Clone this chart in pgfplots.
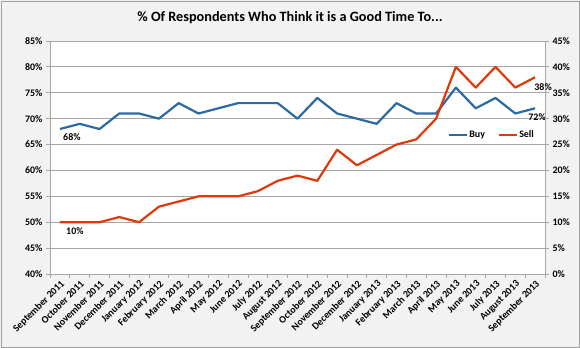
\documentclass[border=0pt]{standalone}
\usepackage{fontspec}
\setmainfont{Carlito}
\usepackage{pgfplots}
\pgfplotsset{compat=1.18}
\definecolor{buyc}{HTML}{2D69A3}
\definecolor{sellc}{HTML}{DE3A0B}
\definecolor{bgc}{HTML}{F2F2F2}
\definecolor{gridc}{HTML}{A6A6A6}
\definecolor{framec}{HTML}{A0A0A0}
\newcommand{\tf}{\bfseries\fontsize{10}{12}\selectfont}
\begin{document}
\begin{tikzpicture}
\fill[bgc] (-50bp,-74bp) rectangle (530bp,274bp);
\draw[framec, line width=0.9bp] (-49bp,-73bp) rectangle (529bp,273bp);
\useasboundingbox (-50bp,-74bp) rectangle (530bp,274bp);
\begin{axis}[
  width=495bp, height=233bp, scale only axis,
  xmin=-0.5, xmax=24.5, ymin=40, ymax=85,
  axis background/.style={fill=white},
  axis y line*=left, axis x line*=bottom,
  axis line style={gridc, line width=0.8bp},
  ytick={40,45,...,85},
  yticklabels={40\%,45\%,50\%,55\%,60\%,65\%,70\%,75\%,80\%,85\%},
  ymajorgrids, grid style={gridc, line width=0.8bp},
  xtick={0,...,24},
  xticklabels={September 2011,October 2011,November 2011,December 2011,January 2012,February 2012,March 2012,April 2012,May 2012,June 2012,July 2012,August 2012,September 2012,October 2012,November 2012,December 2012,January 2013,February 2013,March 2013,April 2013,May 2013,June 2013,July 2013,August 2013,September 2013},
  major x tick style={draw=none},
  minor xtick={-0.5,0.5,...,24.5},
  minor x tick style={gridc, line width=0.8bp},
  tick style={gridc, line width=0.8bp},
  tick align=outside,
  major tick length=4bp, minor tick length=4bp,
  x tick label style={rotate=45, anchor=north east, font=\tf, inner sep=1bp},
  y tick label style={font=\tf},
  clip=false,
]
\addplot[buyc, line width=2.2bp, line join=round] coordinates {
(0,68) (1,69) (2,68) (3,71) (4,71) (5,70) (6,73) (7,71) (8,72) (9,73) (10,73) (11,73) (12,70)
(13,74) (14,71) (15,70) (16,69) (17,73) (18,71) (19,71) (20,76) (21,72) (22,74) (23,71) (24,72)};
\node[font=\tf] at (axis cs:0,68) [xshift=12bp, yshift=-8bp] {68\%};
\node[font=\tf] at (axis cs:24,72) [xshift=2bp, yshift=-9bp] {72\%};
\end{axis}
\begin{axis}[
  width=495bp, height=233bp, scale only axis,
  xmin=-0.5, xmax=24.5, ymin=0, ymax=45,
  axis y line*=right, axis x line=none,
  axis line style={gridc, line width=0.8bp},
  ytick={0,5,...,45},
  yticklabels={0\%,5\%,10\%,15\%,20\%,25\%,30\%,35\%,40\%,45\%},
  tick style={gridc, line width=0.8bp},
  tick align=outside, major tick length=4bp,
  y tick label style={font=\tf},
  legend style={draw=none, fill=none, at={(0.797,0.597)}, anchor=west, legend columns=2, font=\tf,
    nodes={inner sep=1.5bp},
    /tikz/every odd column/.append style={column sep=0bp},
    /tikz/every even column/.append style={column sep=11bp}},
  legend image code/.code={\draw[#1] (0bp,0bp) -- (18bp,0bp);},
  clip=false,
]
\addlegendimage{buyc, line width=2.2bp}
\addlegendentry{Buy}
\addplot[sellc, line width=2.2bp, line join=round] coordinates {
(0,10) (1,10) (2,10) (3,11) (4,10) (5,13) (6,14) (7,15) (8,15) (9,15) (10,16) (11,18) (12,19)
(13,18) (14,24) (15,21) (16,23) (17,25) (18,26) (19,30) (20,40) (21,36) (22,40) (23,36) (24,38)};
\addlegendentry{Sell}
\node[font=\tf] at (axis cs:0,10) [xshift=15bp, yshift=-9bp] {10\%};
\node[font=\tf] at (axis cs:24,38) [xshift=8bp, yshift=-10bp] {38\%};
\end{axis}
\node[font=\bfseries\fontsize{14.3}{16}\selectfont] at (240bp,256bp) {\% Of Respondents Who Think it is a Good Time To...};
\end{tikzpicture}
\end{document}
